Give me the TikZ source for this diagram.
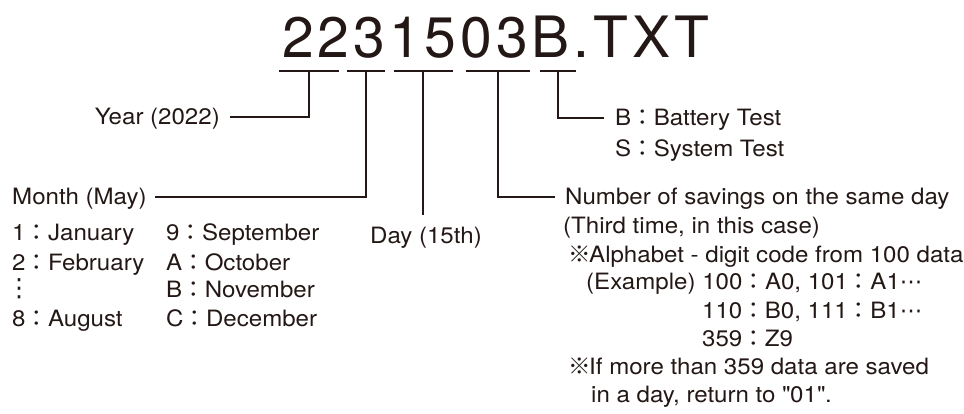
\documentclass[tikz,border=0pt]{standalone}
\usepackage{fontspec}
\setmainfont{TeX Gyre Heros}[FakeStretch=1.07]
\newfontfamily\titlefont{TeX Gyre Heros}[LetterSpace=7]
\newfontfamily\cjkfont{Noto Sans CJK JP}
\newfontfamily\symfont{DejaVu Sans}
\definecolor{ink}{RGB}{35,24,21}
\newcommand{\fwc}{{\cjkfont ：}}
\newcommand{\kome}{{\cjkfont ※}\kern-1.5pt}
\newcommand{\mdt}{{\symfont ⋯}}
\newcommand{\vdt}{{\symfont ⋮}}
\begin{document}
\begin{tikzpicture}[x=1pt,y=-1pt,
  lbl/.style={inner sep=0pt, font=\fontsize{22.5}{26}\selectfont, text=ink,
              text height=16pt, text depth=0pt, anchor=west},
  ttl/.style={inner sep=0pt, font=\titlefont\fontsize{57}{60}\selectfont, text=ink, anchor=base west},
  conn/.style={draw=ink, line width=1.8pt},
  uline/.style={draw=ink, line width=1.8pt}]
\useasboundingbox[fill=white] (0,0) rectangle (964,414);

% title
\node[ttl] (title) at (282,58) {2231503B.TXT};

% underline segments
\coordinate (s1a) at (279,71); \coordinate (s1b) at (339,71);
\coordinate (s2a) at (347,71); \coordinate (s2b) at (385,71);
\coordinate (s3a) at (394,71); \coordinate (s3b) at (453,71);
\coordinate (s4a) at (466,71); \coordinate (s4b) at (530,71);
\coordinate (s5a) at (540,71); \coordinate (s5b) at (576,71);
\draw[uline] (s1a) -- (s1b);
\draw[uline] (s2a) -- (s2b);
\draw[uline] (s3a) -- (s3b);
\draw[uline] (s4a) -- (s4b);
\draw[uline] (s5a) -- (s5b);

\coordinate (yr) at (309,71);
\coordinate (mo) at (366,71);
\coordinate (dy) at (423,71);
\coordinate (nu) at (498,71);
\coordinate (bt) at (558,71);

% year
\node[lbl, anchor=east] (year) at (220,117) {Year (2022)};
\draw[conn, shorten >=10pt] (yr) |- (year);

% month
\node[lbl] (month) at (12,197) {Month (May)};
\draw[conn, shorten >=8pt] (mo) |- (month);
\node[lbl] (m1) at (12,233) {1\fwc January};
\node[lbl] (m2) at (12,262) {2\fwc February};
\node[inner sep=0pt, font=\fontsize{25}{27}\selectfont, text=ink] (mv) at (19,289) {\vdt};
\node[lbl] (m8) at (12,318) {8\fwc August};
\node[lbl] (m9) at (166,233) {9\fwc September};
\node[lbl] (mA) at (166,262) {A\fwc October};
\node[lbl] (mB) at (166,290) {B\fwc November};
\node[lbl] (mC) at (166,318) {C\fwc December};

% day
\node[lbl, anchor=north] (day) at (426,227) {Day (15th)};
\draw[conn, shorten >=12pt] (dy) -- (dy |- day.north);

% number
\node[lbl] (num) at (565,197) {Number of savings on the same day};
\draw[conn, shorten >=10pt] (nu) |- (num);
\node[lbl] (n2) at (563,226) {(Third time, in this case)};
\node[lbl] (n3) at (568,254) {\kome Alphabet - digit code from 100 data};
\node[lbl] (n4) at (586,282) {(Example) 100\fwc A0, 101\fwc A1\mdt};
\node[lbl] (n5) at (702,310) {110\fwc B0, 111\fwc B1\mdt};
\node[lbl] (n6) at (702,338) {359\fwc Z9};
\node[lbl] (n7) at (568,366) {\kome If more than 359 data are saved};
\node[lbl] (n8) at (591,394) {in a day, return to \textquotedbl 01\textquotedbl .};

% test type
\node[lbl] (bat) at (615,118) {B\fwc Battery Test};
\draw[conn, shorten >=11pt] (bt) |- (bat);
\node[lbl] (sys) at (615,149) {S\fwc System Test};
\end{tikzpicture}
\end{document}
